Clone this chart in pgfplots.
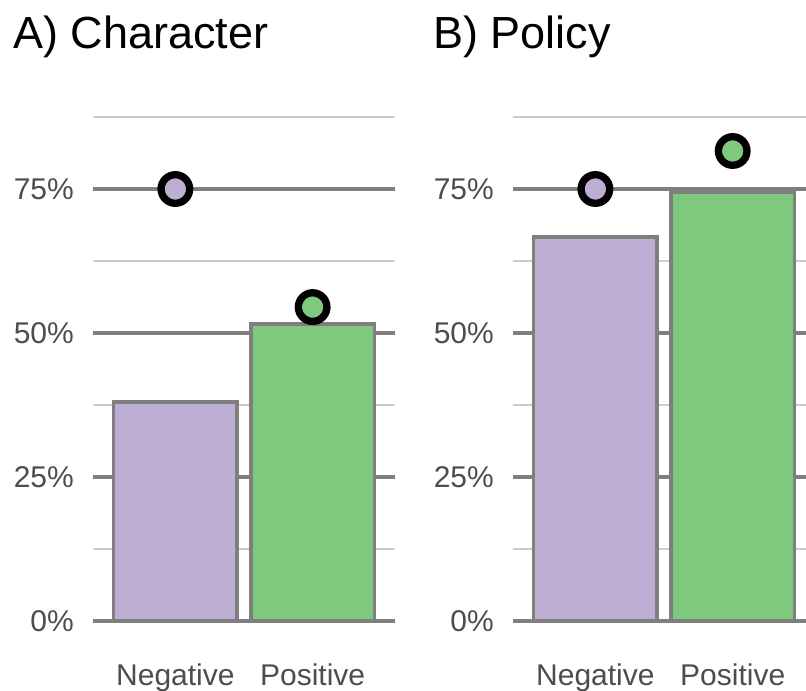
\documentclass[border=0pt]{standalone}
\usepackage{pgfplots}
\pgfplotsset{compat=1.18}
\usepackage{fontspec}
\setmainfont{Liberation Sans}

\definecolor{negfill}{HTML}{BEAED4}
\definecolor{posfill}{HTML}{7FC97F}
\definecolor{edge}{HTML}{7F7F7F}
\definecolor{minorgrid}{HTML}{CCCCCC}
\definecolor{ticktext}{HTML}{4D4D4D}

\pgfplotsset{
  panel/.style={
    scale only axis, width=302bp, height=518.4bp,
    anchor=south west,
    xmin=0.4, xmax=2.6, ymin=0, ymax=0.9,
    clip=false,
    axis line style={draw=none},
    major tick length=0, minor tick length=0,
    xtick={1,2}, xticklabels={Negative,Positive},
    ytick={0,0.25,0.5,0.75}, yticklabels={0\%,25\%,50\%,75\%},
    minor ytick={0.125,0.375,0.625,0.875},
    ymajorgrids, yminorgrids,
    major grid style={edge, line width=4bp},
    minor grid style={minorgrid, line width=2.5bp},
    tick label style={font=\fontsize{30bp}{36bp}\selectfont, text=ticktext},
    yticklabel style={anchor=east, inner sep=0pt, xshift=-19bp},
    xticklabel style={anchor=base, inner sep=0pt, yshift=-64bp},
  },
  bars/.style={ybar, bar width=0.9, bar shift=0pt, draw=edge, line width=3.5bp},
  dots/.style={only marks, mark=*, mark size=14.3bp,
    mark options={draw=black, line width=7.3bp, fill=#1}},
}

\begin{document}
\begin{tikzpicture}
\useasboundingbox (0,0) rectangle (806bp,691bp);

% A) Character
\begin{axis}[panel, at={(93bp,70bp)}]
  \addplot[bars, fill=negfill] coordinates {(1,0.380)};
  \addplot[bars, fill=posfill] coordinates {(2,0.516)};
  \addplot[dots=negfill] coordinates {(1,0.750)};
  \addplot[dots=posfill] coordinates {(2,0.545)};
\end{axis}

% B) Policy -- cut off at the right edge as in the original
\begin{axis}[panel, at={(513bp,70bp)}, width=293bp, xmax=2.534]
  \addplot[bars, fill=negfill] coordinates {(1,0.667)};
  \addplot[bars, fill=posfill] coordinates {(2,0.745)};
  \addplot[dots=negfill] coordinates {(1,0.750)};
  \addplot[dots=posfill] coordinates {(2,0.816)};
\end{axis}

\node[anchor=base west, inner sep=0pt, font=\fontsize{45bp}{54bp}\selectfont] at (13bp,642bp) {A) Character};
\node[anchor=base west, inner sep=0pt, font=\fontsize{45bp}{54bp}\selectfont] at (433bp,642bp) {B) Policy};
\end{tikzpicture}
\end{document}
